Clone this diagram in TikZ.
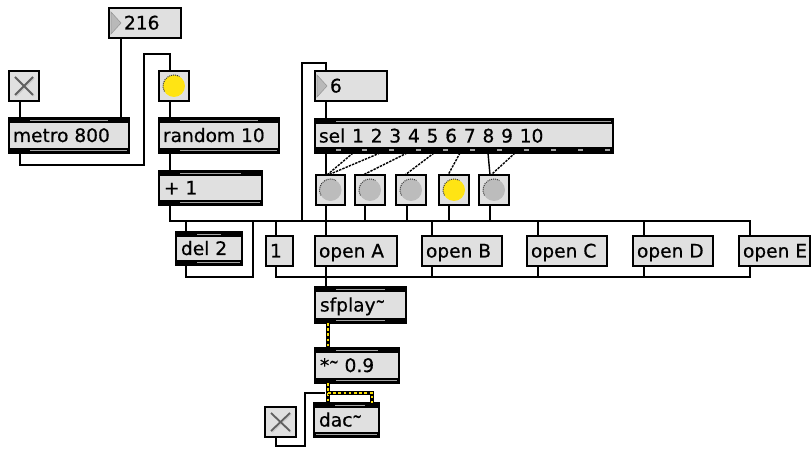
\documentclass[tikz,border=0pt]{standalone}
\usepackage{fontspec}
\usepackage{graphicx}
\setmainfont{DejaVu Sans}
\newfontfamily\mxfont[FakeBold=0.6]{DejaVu Sans}
\usetikzlibrary{calc}
\definecolor{boxfill}{RGB}{224,224,224}
\definecolor{slitc}{RGB}{165,165,165}
\definecolor{bangoff}{RGB}{188,188,188}
\definecolor{bangon}{RGB}{255,228,20}
\definecolor{sigy}{RGB}{250,222,0}
\newcommand\mxtilde{\raisebox{4pt}{\scalebox{0.6}[1]{\textasciitilde}}}
\newcommand\mxtop[2]{%
  \fill (#1.north west) rectangle ([shift={(0,5)}]#1.north east);
  \fill[slitc] ([shift={(21,2)}]#1.north west) rectangle ([shift={(-#2,3.4)}]#1.north east);}
\newcommand\mxbot[3]{%
  \fill ([shift={(0,-5)}]#1.south west) rectangle (#1.south east);
  \fill[slitc] ([shift={(#2,-3.4)}]#1.south west) rectangle ([shift={(-#3,-2)}]#1.south east);}
\newcommand\mxtri[1]{%
  \filldraw[fill=gray!55,draw=gray!80,line width=0.6pt] ([shift={(2,4)}]#1.north west) -- ([shift={(12,15)}]#1.north west) -- ([shift={(2,26)}]#1.north west) -- cycle;}
\newcommand\mxtoggle[1]{%
  \draw[gray!40,line width=1.8pt] ([shift={(7,7)}]#1.north west) -- ([shift={(-5,-5)}]#1.south east)
    ([shift={(7,-5)}]#1.south west) -- ([shift={(-5,7)}]#1.north east);
  \draw[gray!75!black,line width=1.8pt] ([shift={(6,6)}]#1.north west) -- ([shift={(-6,-6)}]#1.south east)
    ([shift={(6,-6)}]#1.south west) -- ([shift={(-6,6)}]#1.north east);}
\newcommand\mxbang[2]{%
  \fill[#2] (#1.center) circle (11pt);
  \draw[gray!45!black,line width=1pt,densely dotted] ([shift={(150:11)}]#1.center) arc[start angle=150,end angle=300,radius=11];}
\begin{document}
\begin{tikzpicture}[x=1pt,y=-1pt,
  box/.style={draw=black,line width=1.5pt,fill=boxfill,inner sep=0pt,outer sep=0pt,anchor=north west},
  txt/.style={anchor=base west,inner sep=0pt,outer sep=0pt,font=\mxfont\fontsize{18.6}{20}\selectfont},
  cord/.style={draw=black,line width=1.6pt},
  selcord/.style={draw=black,line width=1.4pt,dash pattern=on 2.4pt off 1.1pt},
  sig/.style={draw=black,line width=4pt,postaction={draw=sigy,line width=2.2pt,dash pattern=on 2.6pt off 2.6pt}}]
\fill[white] (0,0) rectangle (812,449);
\useasboundingbox (0,0) rectangle (812,449);

% ---------- boxes ----------
\node[box,minimum width=72pt,minimum height=30pt] (num216) at (109,8) {};
\node[box,minimum width=30pt,minimum height=30pt] (tog1) at (9,71) {};
\node[box,minimum width=30pt,minimum height=30pt] (bangA) at (159,71) {};
\node[box,minimum width=120pt,minimum height=35pt] (metro) at (9,118) {};
\node[box,minimum width=120pt,minimum height=35pt] (random) at (159,118) {};
\node[box,minimum width=103pt,minimum height=34pt] (plus) at (159,171) {};
\node[box,minimum width=72pt,minimum height=30pt] (num6) at (315,71) {};
\node[box,minimum width=298pt,minimum height=34pt] (sel) at (315,119) {};
\node[box,minimum width=29pt,minimum height=30pt] (b1) at (316,175) {};
\node[box,minimum width=30pt,minimum height=30pt] (b2) at (355,175) {};
\node[box,minimum width=30pt,minimum height=30pt] (b3) at (396,175) {};
\node[box,minimum width=30pt,minimum height=30pt] (b4) at (439,175) {};
\node[box,minimum width=30pt,minimum height=30pt] (b5) at (479,175) {};
\node[box,minimum width=66pt,minimum height=33pt] (del) at (176,232) {};
\node[box,minimum width=27pt,minimum height=30pt] (msg1) at (266,236) {};
\node[box,minimum width=82pt,minimum height=30pt] (openA) at (315,236) {};
\node[box,minimum width=80pt,minimum height=30pt] (openB) at (422,236) {};
\node[box,minimum width=80pt,minimum height=30pt] (openC) at (527,236) {};
\node[box,minimum width=80pt,minimum height=30pt] (openD) at (633,236) {};
\node[box,minimum width=71pt,minimum height=30pt] (openE) at (739,236) {};
\node[box,minimum width=91pt,minimum height=36pt] (sfplay) at (315,287) {};
\node[box,minimum width=84pt,minimum height=35pt] (mul) at (315,348) {};
\node[box,minimum width=65pt,minimum height=34pt] (dac) at (314,403) {};
\node[box,minimum width=31pt,minimum height=30pt] (tog2) at (265,407) {};

% ---------- object bars ----------
\mxtop{metro}{21}\mxbot{metro}{21}{2}
\mxtop{random}{21}\mxbot{random}{21}{2}
\mxtop{plus}{21}\mxbot{plus}{21}{2}
\mxtop{sel}{2}
\fill ([shift={(0,-6)}]sel.south west) rectangle (sel.south east);
\foreach \k in {0,...,10} \fill[slitc] ([shift={(20.5+26.9*\k,-3.6)}]sel.south west) rectangle ++(5,1.6);
\mxtop{del}{21}\mxbot{del}{21}{2}
\mxtop{sfplay}{21}\mxbot{sfplay}{21}{21}
\mxtop{mul}{21}\mxbot{mul}{21}{2}
\mxtop{dac}{14}\mxbot{dac}{2}{2}

% ---------- widgets ----------
\mxtri{num216}\mxtri{num6}
\mxtoggle{tog1}\mxtoggle{tog2}
\mxbang{bangA}{bangon}
\mxbang{b1}{bangoff}\mxbang{b2}{bangoff}\mxbang{b3}{bangoff}
\mxbang{b4}{bangon}\mxbang{b5}{bangoff}

% ---------- texts ----------
\node[txt] (t216) at ([shift={(15,6.5)}]num216.west) {216};
\node[txt] (tmetro) at ([shift={(4,6.5)}]metro.west) {metro 800};
\node[txt] (trandom) at ([shift={(4,6.5)}]random.west) {random 10};
\node[txt] (tplus) at ([shift={(5,6.5)}]plus.west) {+ 1};
\node[txt] (t6) at ([shift={(15,6.5)}]num6.west) {6};
\node[txt] (tsel) at ([shift={(4,6.5)}]sel.west) {\spaceskip=6.8pt sel 1 2 3 4 5 6 7 8 9 10};
\node[txt] (tdel) at ([shift={(5,6.5)}]del.west) {del 2};
\node[txt] (t1) at ([shift={(4,6.5)}]msg1.west) {1};
\node[txt] (tA) at ([shift={(4,6.5)}]openA.west) {open A};
\node[txt] (tB) at ([shift={(4,6.5)}]openB.west) {open B};
\node[txt] (tC) at ([shift={(4,6.5)}]openC.west) {open C};
\node[txt] (tD) at ([shift={(4,6.5)}]openD.west) {open D};
\node[txt] (tE) at ([shift={(4,6.5)}]openE.west) {open E};
\node[txt] (tsf) at ([shift={(5,6.5)}]sfplay.west) {sfplay\mxtilde};
\node[txt] (tmul) at ([shift={(5,6.5)}]mul.west) {*\mxtilde\ 0.9};
\node[txt] (tdac) at ([shift={(5,6.5)}]dac.west) {dac\mxtilde};

% ---------- control cords ----------
\draw[cord] ([shift={(12,0)}]num216.south west) -- ([shift={(112,0)}]metro.north west);
\draw[cord] ([shift={(11,0)}]tog1.south west) -- ([shift={(11,0)}]metro.north west);
\coordinate (loopA) at (144,54);
\draw[cord] ([shift={(11,0)}]metro.south west) -- ++(0,12) -| (loopA) -| ([shift={(11,0)}]bangA.north west);
\draw[cord] ([shift={(11,0)}]bangA.south west) -- ([shift={(11,0)}]random.north west);
\draw[cord] ([shift={(11,0)}]random.south west) -- ([shift={(11,0)}]plus.north west);
% bus from + 1
\draw[cord] ([shift={(11,0)}]plus.south west) |- ([shift={(11,-15)}]openE.north west) -- ([shift={(11,0)}]openE.north west);
\draw[cord] ([shift={(10,-11)}]del.north west) -- ([shift={(10,0)}]del.north west);
\draw[cord] ([shift={(10,-15)}]msg1.north west) -- ([shift={(10,0)}]msg1.north west);
\draw[cord] ([shift={(-13,-15)}]openA.north west) |- ([shift={(11,-8)}]num6.north west) -- ([shift={(11,0)}]num6.north west);
\draw[cord] ([shift={(10,-15)}]openB.north west) -- ([shift={(10,0)}]openB.north west);
\draw[cord] ([shift={(11,-15)}]openC.north west) -- ([shift={(11,0)}]openC.north west);
\draw[cord] ([shift={(11,-15)}]openD.north west) -- ([shift={(11,0)}]openD.north west);
\draw[cord] ([shift={(10,0)}]del.south west) -- ++(0,12) -| ([shift={(-13,-15)}]msg1.north west);
% number 6 to sel
\draw[cord] ([shift={(11,0)}]num6.south west) -- ([shift={(11,0)}]sel.north west);
% sel to bangs
\draw[cord,line width=1.4pt] ([shift={(11,0)}]sel.south west) -- ([shift={(10,0)}]b1.north west);
\draw[selcord] ([shift={(38,0)}]sel.south west) -- ([shift={(11,0)}]b1.north west);
\draw[selcord] ([shift={(65,0)}]sel.south west) -- ([shift={(12,0)}]b1.north west);
\draw[selcord] ([shift={(92,0)}]sel.south west) -- ([shift={(8,0)}]b2.north west);
\draw[selcord] ([shift={(119,0)}]sel.south west) -- ([shift={(9,0)}]b3.north west);
\draw[selcord] ([shift={(145,0)}]sel.south west) -- ([shift={(9,0)}]b4.north west);
\draw[cord,line width=1.4pt] ([shift={(173,0)}]sel.south west) -- ([shift={(11,0)}]b5.north west);
\draw[selcord] ([shift={(200,0)}]sel.south west) -- ([shift={(12,0)}]b5.north west);
% bangs down
\draw[cord] ([shift={(10,0)}]b1.south west) -- ([shift={(11,0)}]openA.north west);
\draw[cord] ([shift={(10,0)}]b2.south west) -- ++(0,16);
\draw[cord] ([shift={(11,0)}]b3.south west) -- ++(0,16);
\draw[cord] ([shift={(10,0)}]b4.south west) -- ++(0,16);
\draw[cord] ([shift={(11,0)}]b5.south west) -- ++(0,16);
% message outlets
\draw[cord] ([shift={(10,0)}]msg1.south west) |- ([shift={(11,11)}]openE.south west) -- ([shift={(11,0)}]openE.south west);
\draw[cord] ([shift={(10,0)}]openB.south west) -- ++(0,11);
\draw[cord] ([shift={(11,0)}]openC.south west) -- ++(0,11);
\draw[cord] ([shift={(11,0)}]openD.south west) -- ++(0,11);
\draw[cord] ([shift={(11,0)}]openA.south west) -- ([shift={(11,0)}]sfplay.north west);
% toggle to dac
\draw[cord] ([shift={(11,0)}]tog2.south west) -- ++(0,9) -| ([shift={(-9,-10)}]dac.north west) -- ([shift={(11,-10)}]dac.north west);

% ---------- signal cords ----------
\draw[sig] ([shift={(13,0)}]sfplay.south west) -- ([shift={(13,0)}]mul.north west);
\draw[sig] ([shift={(13,0)}]mul.south west) -- ([shift={(14,0)}]dac.north west);
\draw[sig] ([shift={(13,10)}]mul.south west) -| ([shift={(-7,0)}]dac.north east);
\end{tikzpicture}
\end{document}
